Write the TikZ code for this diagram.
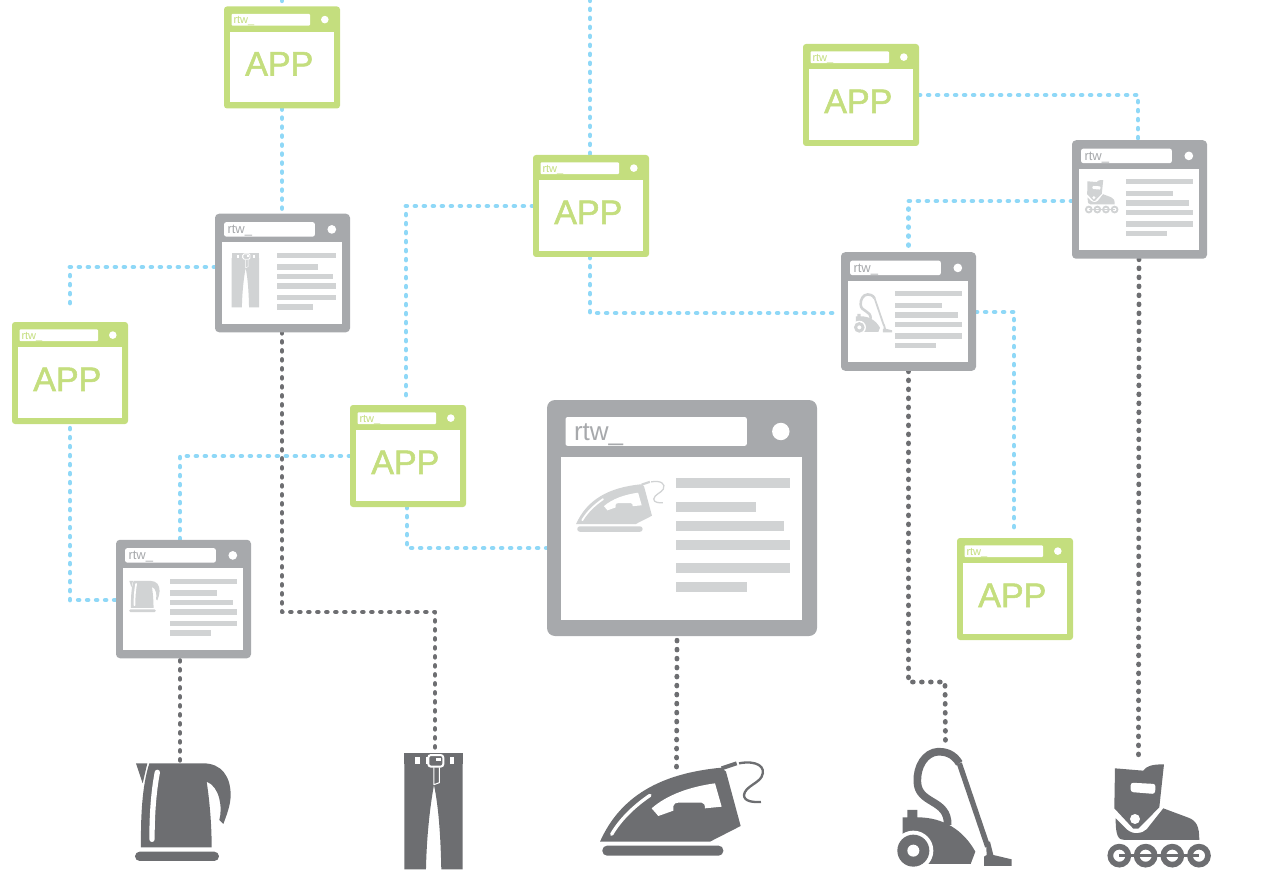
\documentclass[tikz,border=0pt]{standalone}
\usepackage{fontspec}
\setmainfont{Liberation Sans}
\newfontfamily\appfont[FakeBold=1.6]{Liberation Sans}
\usetikzlibrary{backgrounds}
\definecolor{wingray}{HTML}{A7A9AC}
\definecolor{barmid}{HTML}{D1D3D4}
\definecolor{icondark}{HTML}{6D6E71}
\definecolor{appgreen}{HTML}{C4DE7E}
\definecolor{linkblue}{HTML}{8FD8F7}
\tikzset{
  x=1pt,y=-1pt,
  bluelink/.style={draw=linkblue,line width=4.8pt,line cap=round,line join=round,dash pattern=on 0.8pt off 8.2pt},
  darklink/.style={draw=icondark,line width=4.8pt,line cap=round,line join=round,dash pattern=on 0.8pt off 8.2pt},
  appwin/.style={draw=none,fill=appgreen,rounded corners=3pt,minimum width=116pt,minimum height=102pt,inner sep=0pt},
  prodwin/.style={draw=none,fill=wingray,rounded corners=4pt,minimum width=135pt,minimum height=118.5pt,inner sep=0pt},
  bigwin/.style={draw=none,fill=wingray,rounded corners=8pt,minimum width=270pt,minimum height=236pt,inner sep=0pt},
  iconbox/.style={draw=none,fill=none,inner sep=0pt},
  titletext/.style={anchor=west,inner sep=0pt},
}
% App window: name, centre x, centre y, title text
\newcommand{\appwindow}[4]{
  \node[appwin] (#1) at (#2,#3) {};
  \begin{scope}[shift={(#1.north west)}]
    \fill[white,rounded corners=1pt] (7.7,7.6) rectangle (86.3,19.3);
    \fill[white] (101,13.3) circle[radius=3.8];
    \fill[white] (6,25.6) rectangle (110,96);
    \node[titletext,text=appgreen,font=\fontsize{11}{11}\selectfont] (#1-title) at (9.5,14.8) {#4};
    \node[inner sep=0pt,text=appgreen,font=\appfont\fontsize{34}{34}\selectfont] (#1-label) at (55.5,57.5) {APP};
  \end{scope}
}
% Window interior: node, scale, bar left edge, right ends of bars 2, 3, 6 and of the long bars
\newcommand{\winbody}[6]{
  \begin{scope}[shift={(#1.north west)},scale=#2]
    \fill[white,rounded corners=2pt] (18.7,17.3) rectangle (200,46);
    \fill[white] (234,31.7) circle[radius=8.7];
    \fill[white] (13.7,57.3) rectangle (255.3,220);
    \fill[barmid] (#3,78.3) rectangle (#6,88.6);
    \fill[barmid] (#3,101.7) rectangle (#4,112);
    \fill[barmid] (#3,120.7) rectangle (#5,131);
    \fill[barmid] (#3,139.7) rectangle (#6,150.3);
    \fill[barmid] (#3,162.7) rectangle (#6,173.6);
  \end{scope}
}
\newcommand{\lastbar}[3]{
  \begin{scope}[shift={(#1.north west)},scale=#2]
    \fill[barmid] #3;
  \end{scope}
}
% Icons: x0, y0, scale, colour; coordinates in 3x zoom pixels
\newcommand{\kettleicon}[4]{
  \begin{scope}[shift={(#1,#2)},scale=#3]
    \fill[#4] (108,70) -- (142,70) -- (128,130) -- cycle;
    \fill[#4] (148,70) -- (310,70) .. controls (365,70) and (392,110) .. (392,165) .. controls (392,195) and (380,225) .. (370,252) -- (358,240) .. controls (368,205) and (360,140) .. (320,125) .. controls (330,190) and (335,260) .. (335,322) -- (123,322) .. controls (122,240) and (125,140) .. (148,70) -- cycle;
    \draw[white,line width=16pt*#3,line cap=round] (172,97) .. controls (160,160) and (156,230) .. (156,298);
    \fill[#4,rounded corners=14pt*#3] (105,335) rectangle (357,363);
  \end{scope}
}
\newcommand{\jeansicon}[4]{
  \begin{scope}[shift={(#1,#2)},scale=#3]
    \fill[#4] (913,38) rectangle (1088,52);
    \fill[#4] (913,52) rectangle (945,72);
    \fill[#4] (960,52) rectangle (978,72);
    \fill[#4] (1033,52) rectangle (1050,72);
    \fill[#4] (1063,52) rectangle (1088,72);
    \fill[#4] (913,72) -- (1088,72) -- (1088,388) -- (1024,388) .. controls (1022,290) and (1016,200) .. (1002,135) .. controls (990,200) and (980,290) .. (978,388) -- (913,388) -- cycle;
    \draw[white,line width=3pt*#3] (1002,82) -- (1002,135) (1002,134) -- (1018,128) -- (1018,82);
    \fill[#4,draw=white,line width=6pt*#3,rounded corners=8pt*#3] (985,45) rectangle (1030,80);
    \fill[white] (1008,55) rectangle (1024,63);
  \end{scope}
}
\newcommand{\ironicon}[4]{
  \begin{scope}[shift={(#1,#2)},scale=#3]
    \fill[#4] (30,305) .. controls (90,170) and (210,100) .. (395,83) -- (408,95) -- (452,258) -- (360,305) -- cycle;
    \draw[#4,line width=12pt*#3] (395,85) -- (440,70);
    \draw[#4,line width=7pt*#3] (447,70) .. controls (500,60) and (530,80) .. (515,110) .. controls (505,130) and (465,140) .. (462,165) .. controls (462,185) and (490,187) .. (513,186);
    \fill[white] (185,205) -- (205,228) -- (250,212) -- (250,198) .. controls (252,190) and (258,188) .. (265,188) -- (335,188) .. controls (342,188) and (345,195) .. (345,205) -- (395,200) -- (375,130) .. controls (300,140) and (230,165) .. (185,205) -- cycle;
    \draw[white,line width=10pt*#3,line cap=round] (65,283) .. controls (90,240) and (130,200) .. (180,166);
    \fill[#4,rounded corners=14pt*#3] (37,317) rectangle (400,347);
  \end{scope}
}
\newcommand{\vacuumicon}[4]{
  \begin{scope}[shift={(#1,#2)},scale=#3]
    \draw[#4,line width=23pt*#3] (238,100) .. controls (220,70) and (195,65) .. (175,65) .. controls (135,67) and (110,110) .. (112,155) .. controls (114,225) and (205,205) .. (203,285);
    \draw[#4,line width=16pt*#3] (238,100) -- (323,350);
    \fill[#4] (318,335) -- (330,335) -- (340,375) -- (395,388) -- (395,408) -- (312,408) -- (312,380) -- (320,375) -- cycle;
    \fill[#4] (68,262) -- (82,262) -- (82,240) -- (112,240) -- (112,262) .. controls (190,262) and (250,300) .. (286,365) -- (272,402) -- (100,402) -- (68,340) -- cycle;
    \fill[white] (100,362) circle[radius=60];
    \fill[#4] (100,362) circle[radius=48];
    \fill[white] (100,362) circle[radius=18];
  \end{scope}
}
\newcommand{\skateicon}[4]{
  \begin{scope}[shift={(#1,#2)},scale=#3]
    \fill[#4] (705,115) -- (790,122) .. controls (800,108) and (815,103) .. (852,103) -- (838,232) -- (775,296) -- (760,296) -- (703,235) -- cycle;
    \fill[white,rounded corners=8pt*#3] (752,158) -- (827,162) -- (825,192) -- (752,186) -- cycle;
    \fill[white] (765,267) circle[radius=15];
    \fill[#4] (850,235) -- (925,263) .. controls (950,272) and (958,290) .. (958,330) -- (735,330) .. controls (715,330) and (707,320) .. (707,265) -- (740,298) .. controls (760,315) and (785,312) .. (800,298) -- cycle;
    \draw[#4,line width=17pt*#3] (718,377) circle[radius=27] (797,377) circle[radius=27] (877,377) circle[radius=27] (957,377) circle[radius=27];
    \draw[#4,line width=11pt*#3] (718,377) -- (957,377);
  \end{scope}
}
\begin{document}
\begin{tikzpicture}
\useasboundingbox (0,0) rectangle (1263,893);

% App windows
\appwindow{appA}{282}{57.5}{rtw\_}
\appwindow{appB}{591}{206}{rtw\_}
\appwindow{appC}{861}{95}{rtw\_}
\appwindow{appD}{70}{373}{rtw\_}
\appwindow{appE}{408}{456}{rtw\_}
\appwindow{appF}{1015}{589}{rtw\_}

% Product windows
\node[prodwin] (jeanswin) at (282.5,273) {};
\winbody{jeanswin}{0.5}{123.4}{206.6}{236}{243}
\lastbar{jeanswin}{0.5}{(123.4,181.7) rectangle (196.6,192.3)}
\node[titletext,text=wingray,font=\fontsize{13}{13}\selectfont] (jeanswin-title) at ([shift={(12.5,17.5)}]jeanswin.north west) {rtw\_};
\jeansicon{89.3}{246.8}{0.156}{barmid}

\node[prodwin] (skatewin) at (1139.5,199.5) {};
\winbody{skatewin}{0.5}{108}{201.5}{234}{241.5}
\lastbar{skatewin}{0.5}{(108,181.7) rectangle (190,192.3)}
\node[titletext,text=wingray,font=\fontsize{13}{13}\selectfont] (skatewin-title) at ([shift={(12.5,17.5)}]skatewin.north west) {rtw\_};
\skateicon{1011.4}{168.9}{0.1078}{barmid}

\node[prodwin] (vacwin) at (908.5,311.5) {};
\winbody{vacwin}{0.5}{108}{201.5}{234}{241.5}
\lastbar{vacwin}{0.5}{(108,181.7) rectangle (190,192.3)}
\node[titletext,text=wingray,font=\fontsize{13}{13}\selectfont] (vacwin-title) at ([shift={(12.5,17.5)}]vacwin.north west) {rtw\_};
\vacuumicon{848.2}{287.2}{0.111}{barmid}

\node[prodwin] (ketwin) at (183.5,599) {};
\winbody{ketwin}{0.5}{108}{201.5}{234}{241.5}
\lastbar{ketwin}{0.5}{(108,181.7) rectangle (190,192.3)}
\node[titletext,text=wingray,font=\fontsize{13}{13}\selectfont] (ketwin-title) at ([shift={(12.5,17.5)}]ketwin.north west) {rtw\_};
\kettleicon{117.8}{573.5}{0.1067}{barmid}

\node[bigwin] (ironwin) at (682,518) {};
\winbody{ironwin}{1}{129}{208.7}{237}{243}
\lastbar{ironwin}{1}{(129,181.7) rectangle (199.7,192.3)}
\node[titletext,text=wingray,font=\fontsize{26}{26}\selectfont] (ironwin-title) at ([shift={(27,35)}]ironwin.north west) {rtw\_};
\ironicon{570.6}{469.3}{0.18}{barmid}

% Large icons
\kettleicon{100}{740}{0.3333}{icondark}
\jeansicon{100}{740}{0.3333}{icondark}
\ironicon{590}{740}{0.3333}{icondark}
\vacuumicon{880}{730}{0.3333}{icondark}
\skateicon{880}{730}{0.3333}{icondark}

% Anchors for connectors at the big icons
\node[iconbox,minimum width=97pt,minimum height=100pt] (ketpic) at (183.5,812) {};
\node[iconbox,minimum width=59pt,minimum height=118pt] (jeanspic) at (433.5,811) {};
\node[iconbox,minimum width=163pt,minimum height=96pt] (ironpic) at (681.5,808) {};
\node[iconbox,minimum width=115pt,minimum height=118pt] (vacpic) at (954.5,807) {};
\node[iconbox,minimum width=103pt,minimum height=105pt] (skatepic) at (1159.5,815.5) {};

\coordinate (topA) at (282,0);
\coordinate (topB) at (590,0);
\coordinate (jeansbend) at (282,612);
\coordinate (vacbend) at (945,682);

\begin{pgfonlayer}{background}
  \draw[bluelink] (topA) -- (appA.north);
  \draw[bluelink] (appA.south) -- ([xshift=-0.5pt]jeanswin.north);
  \draw[bluelink] (topB) -- ([xshift=-1pt]appB.north);
  \draw[bluelink] ([yshift=6pt]jeanswin.west) -| ([yshift=16pt]appD.north);
  \draw[bluelink] ([yshift=-4pt]appD.south) |- ([yshift=-1pt]ketwin.west);
  \draw[bluelink] (appE.west) -| ([xshift=-3.5pt]ketwin.north);
  \draw[bluelink] (appB.west) -| ([xshift=-2pt,yshift=8pt]appE.north);
  \draw[bluelink] ([xshift=-1pt]appB.south) |- ([yshift=-1.5pt,xshift=-3pt]vacwin.west);
  \draw[bluelink] ([xshift=-1pt]appE.south) |- ([yshift=-30pt]ironwin.west);
  \draw[bluelink] (appC.east) -| ([xshift=-1.5pt]skatewin.north);
  \draw[bluelink] ([yshift=-1.5pt]skatewin.west) -| (vacwin.north);
  \draw[bluelink] ([yshift=-0.5pt]vacwin.east) -| ([xshift=-1pt,yshift=3pt]appF.north);
  \draw[darklink] ([xshift=-0.5pt]jeanswin.south) -- (jeansbend) -| ([xshift=1.5pt]jeanspic.north);
  \draw[darklink] ([xshift=-3.5pt,yshift=-2pt]ketwin.south) -- ([xshift=-3.5pt]ketpic.north);
  \draw[darklink] ([xshift=-5pt,yshift=-4pt]ironwin.south) -- ([xshift=-5pt,yshift=-12pt]ironpic.north);
  \draw[darklink] (vacwin.south) |- (vacbend) -- ([xshift=-9pt]vacpic.north);
  \draw[darklink] ([xshift=-0.5pt]skatewin.south) -- ([xshift=-21pt,yshift=6pt]skatepic.north);
\end{pgfonlayer}
\end{tikzpicture}
\end{document}
